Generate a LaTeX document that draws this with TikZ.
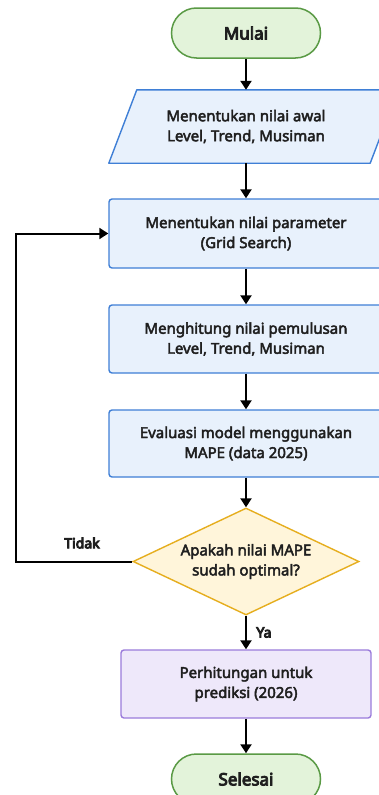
\documentclass[tikz,border=0pt]{standalone}
\usepackage{fontspec}
\setmainfont{Noto Sans}
\newcommand\medweight[1]{\special{pdf:literal direct 2 Tr 0.45 w}#1\special{pdf:literal direct 0 Tr}}
\newcommand\bldweight[1]{\special{pdf:literal direct 2 Tr 0.9 w}#1\special{pdf:literal direct 0 Tr}}
\usetikzlibrary{shapes.geometric,arrows.meta,backgrounds}
\definecolor{gline}{HTML}{5A9A45}
\definecolor{gfill}{HTML}{E3F3DA}
\definecolor{bline}{HTML}{3F7FD6}
\definecolor{bfill}{HTML}{E8F1FC}
\definecolor{yline}{HTML}{E6AE1E}
\definecolor{yfill}{HTML}{FFF5DA}
\definecolor{pline}{HTML}{9B7BDB}
\definecolor{pfill}{HTML}{EEE8FA}
\tikzset{
  x=1pt,y=-1pt,
  txt/.style={font=\fontsize{15}{20}\selectfont, align=center, text=black!88},
  terminal/.style={draw=gline, fill=gfill, line width=1.5pt, rounded corners=25pt,
    minimum width=149pt, minimum height=50pt, font=\fontsize{17}{20}\selectfont, text=black!88},
  procbox/.style={txt, draw=bline, fill=bfill, line width=1.4pt, rounded corners=3pt,
    minimum width=274pt, minimum height=68pt},
  iobox/.style={txt, minimum width=260pt, minimum height=73pt, inner sep=0pt},
  decbox/.style={txt, shape=diamond, draw=yline, fill=yfill, line width=1.4pt, aspect=2.1,
    inner sep=0pt, minimum width=226pt, minimum height=107pt},
  predbox/.style={txt, draw=pline, fill=pfill, line width=1.4pt, rounded corners=3pt,
    minimum width=250pt, minimum height=68pt},
  arr/.style={-{Triangle[length=9pt,width=11pt]}, line width=2.2pt, black},
  lbl/.style={font=\fontsize{14}{16}\selectfont, text=black!88}
}
\begin{document}
\begin{tikzpicture}
\useasboundingbox (0,0) rectangle (379,795);
\clip (0,0) rectangle (379,795);
\node[terminal] (mulai) at (246,33) {\bldweight{Mulai}};
\node[iobox] (awal) at (246,126.5) {\medweight{Menentukan nilai awal}\\\medweight{Level, Trend, Musiman}};
\begin{scope}[on background layer]
  \fill[white] (0,0) rectangle (379,795);
  \draw[draw=bline, fill=bfill, line width=1.4pt, line join=round]
    ([xshift=-7pt]awal.south west) -- ([xshift=-6pt]awal.south east)
    -- ([xshift=22pt]awal.north east) -- ([xshift=21pt]awal.north west) -- cycle;
\end{scope}
\node[procbox, minimum height=69pt] (param) at (246,233.5) {\medweight{Menentukan nilai parameter}\\\medweight{(Grid Search)}};
\node[procbox] (hitung) at (246,339) {\medweight{Menghitung nilai pemulusan}\\\medweight{Level, Trend, Musiman}};
\node[procbox, minimum height=67pt] (eval) at (246,443.5) {\medweight{Evaluasi model menggunakan}\\\medweight{MAPE (data 2025)}};
\node[decbox] (dec) at (246,561.5) {\medweight{Apakah nilai MAPE}\\\medweight{sudah optimal?}};
\node[predbox] (pred) at (246,684) {\medweight{Perhitungan untuk}\\\medweight{prediksi (2026)}};
\node[terminal] (selesai) at (246,779) {\bldweight{Selesai}};
\coordinate (lb) at (16,561.5);
\coordinate (lt) at (16,233.5);
\draw[arr] (mulai) -- (awal);
\draw[arr] (awal) -- (param);
\draw[arr] (param) -- (hitung);
\draw[arr] (hitung) -- (eval);
\draw[arr] (eval) -- (dec);
\draw[arr] (dec) -- node[lbl, right=6pt] {\bldweight{Ya}} (pred);
\draw[arr] (pred) -- (selesai);
\draw[arr, line join=miter, line width=2pt] (dec.west) -- (lb) -- (lt) -- (param.west);
\node[lbl] (tidak) at (82,543) {\bldweight{Tidak}};
\end{tikzpicture}
\end{document}
